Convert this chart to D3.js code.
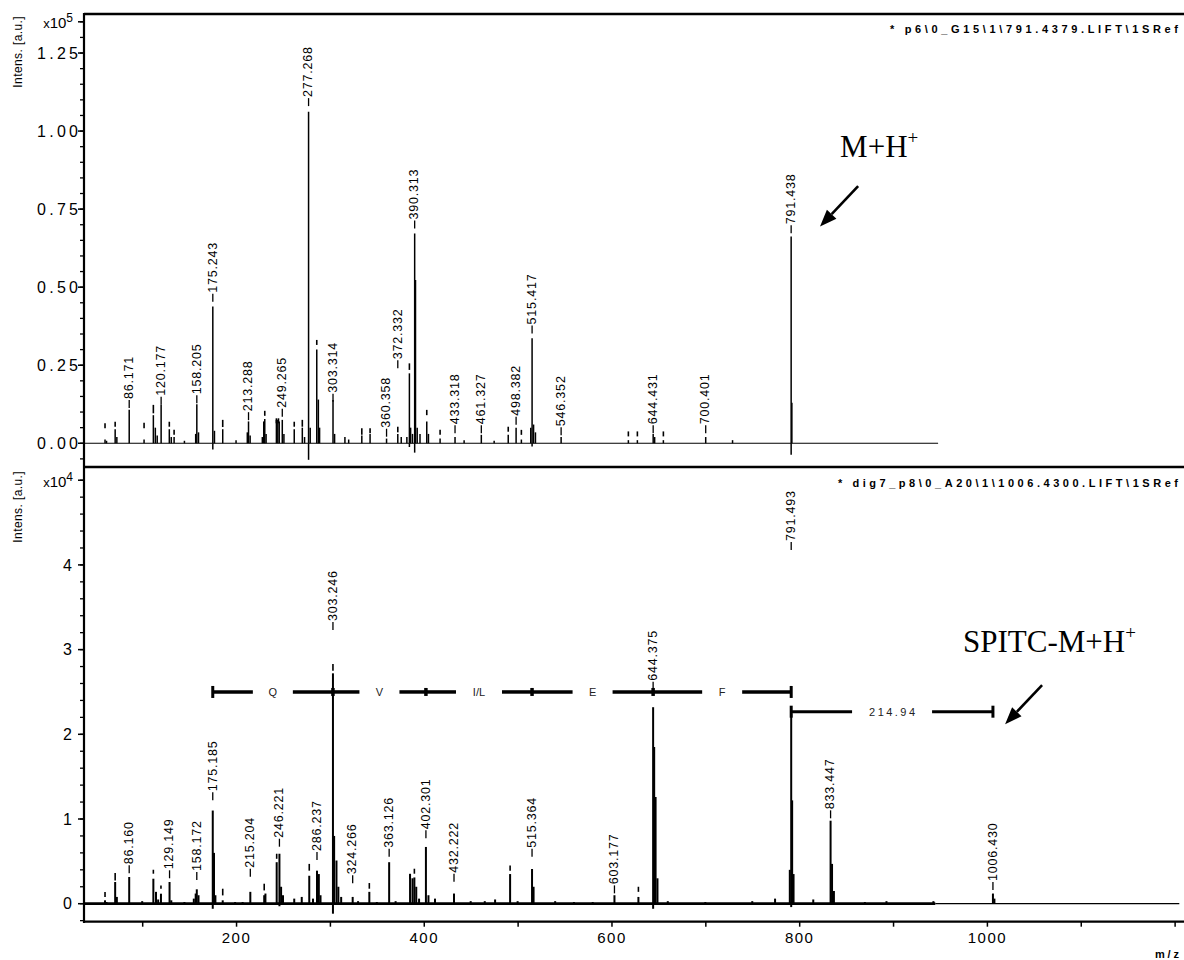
<!DOCTYPE html>
<html>
<head>
<meta charset="utf-8">
<script src="https://cdn.jsdelivr.net/npm/d3@7"></script>
<style>
body { margin: 0; background: #fff; }
svg { display: block; font-family: "Liberation Sans", Arial, sans-serif; }
</style>
</head>
<body>
<div id="chart"></div>
<script>
var w = 1184,
    h = 960;

// ---- top spectrum (intensity x10^5) ----
var topMz = [60.4, 62, 71.2, 73, 86.171, 102, 111.9, 114, 116, 120.177, 128.9, 131, 134, 145, 157, 158.205, 160,
    175.243, 177, 185.8, 200, 212, 213.288, 215, 228, 229.5, 230.6, 232, 243, 244.5, 246, 249.265, 251, 262, 270.6,
    273, 277.268, 279, 286, 287.7, 289, 303.314, 305, 316, 320, 334, 342.8, 360.358, 372.332, 376, 382, 384.7, 386,
    388, 390.313, 391.2, 393, 396, 403.2, 405, 417.4, 433.318, 443, 461.327, 475, 490, 498.382, 504, 514, 515.417,
    517, 519, 546.352, 618, 627.6, 644.431, 646, 655.3, 700.401, 729, 791.438, 792.2];
var topInt = [0.012, 0.008, 0.045, 0.02, 0.107, 0.012, 0.09, 0.05, 0.025, 0.123, 0.045, 0.02, 0.02, 0.008, 0.03, 0.125, 0.035,
    0.438, 0.04, 0.045, 0.01, 0.035, 0.07, 0.025, 0.02, 0.07, 0.078, 0.03, 0.075, 0.075, 0.07, 0.075, 0.03, 0.045, 0.05,
    0.02, 1.062, 0.05, 0.3, 0.14, 0.05, 0.139, 0.03, 0.02, 0.012, 0.025, 0.03, 0.015, 0.03, 0.02, 0.02, 0.224, 0.05,
    0.03, 0.672, 0.523, 0.05, 0.03, 0.07, 0.03, 0.015, 0.02, 0.01, 0.027, 0.008, 0.027, 0.05, 0.012, 0.05, 0.336,
    0.06, 0.035, 0.02, 0.01, 0.01, 0.03, 0.02, 0.01, 0.02, 0.01, 0.662, 0.13];
// small peak markers drawn above unlabelled peaks: [m/z, low, high]
var topMarks = [[60.4, .048, .064], [71.2, .053, .069], [102, .048, .066], [111.9, .096, .123], [128.9, .053, .069],
    [134, .027, .043], [185.8, .052, .075], [230.6, .088, .104], [243, .064, .080], [245.2, .064, .080],
    [262, .053, .069], [270.6, .053, .075], [286, .315, .331], [334, .027, .048], [342.8, .032, .048],
    [372.332, .035, .053], [384.7, .235, .256], [403.2, .09, .107], [417.4, .027, .043], [490, .037, .053],
    [504, .027, .043], [618, .022, .038], [627.6, .022, .038], [655.3, .022, .038]];
var topDips = [[175.243, -0.02], [277.268, -0.053], [390.313, -0.03], [515.417, -0.01], [791.438, -0.037], [384.7, -0.012]];
var topLabelMz = [86.171, 120.177, 158.205, 175.243, 213.288, 249.265, 277.268, 303.314, 360.358, 372.332,
    390.313, 433.318, 461.327, 498.382, 515.417, 546.352, 644.431, 700.401, 791.438];
var topLabelAt = [.113, .123, .128, .453, .074, .085, 1.08, .133, .021, .24,
    .688, .032, .032, .059, .352, .026, .032, .032, .673];

// ---- bottom spectrum (intensity x10^4) ----
var botMz = [60.4, 62, 71.2, 73, 86.16, 100, 111.9, 114.7, 117, 120, 129.149, 131, 145, 155, 157, 158.172, 160,
    175.185, 176.5, 178, 185.8, 199, 207, 215.204, 230, 231.3, 243.3, 246.221, 248, 250, 262, 270, 278, 282,
    286.237, 288.2, 290, 303.246, 304.5, 307, 309, 312, 324.266, 330, 342, 350, 363.126, 370, 385.4, 388, 390,
    392, 395, 402.301, 405, 412, 432.222, 450, 465, 476, 492, 500, 515.364, 517, 540, 560, 580, 603.177, 628.7,
    644.375, 645.5, 647, 649, 660, 700, 750, 774.3, 790, 791.493, 792.5, 794, 815, 833.447, 835, 837, 870, 893,
    943, 1006.43, 1008];
var botInt = [0.04, 0.02, 0.256, 0.08, 0.315, 0.03, 0.295, 0.14, 0.05, 0.118, 0.256, 0.04, 0.02, 0.06, 0.12, 0.17, 0.1,
    1.1, 0.6, 0.1, 0.04, 0.02, 0.02, 0.14, 0.1, 0.12, 0.49, 0.59, 0.2, 0.1, 0.06, 0.08, 0.33, 0.06,
    0.39, 0.35, 0.1, 2.72, 0.8, 0.51, 0.2, 0.08, 0.08, 0.03, 0.14, 0.02, 0.49, 0.03, 0.35, 0.3, 0.31,
    0.2, 0.06, 0.67, 0.1, 0.06, 0.12, 0.03, 0.03, 0.05, 0.35, 0.03, 0.41, 0.2, 0.03, 0.02, 0.02, 0.1, 0.08,
    2.32, 1.85, 1.26, 0.3, 0.03, 0.02, 0.03, 0.06, 0.4, 2.24, 1.22, 0.35, 0.05, 0.98, 0.47, 0.15, 0.02, 0.03,
    0.03, 0.12, 0.06];
var botMarks = [[60.4, .079, .138], [71.2, .275, .362], [111.9, .354, .401], [120, .177, .216], [185.8, .098, .177],
    [230, .157, .236], [243.3, .53, .59], [278, .39, .47], [303.246, 2.75, 2.83], [342, .177, .244],
    [385.4, .295, .354], [390, .354, .413], [492, .39, .45], [628.7, .14, .2]];
var botDips = [[175.185, -0.06], [303.246, -0.118], [644.375, -0.06], [791.493, -0.04], [246.221, -0.03]];
var botLabelMz = [86.16, 129.149, 158.172, 175.185, 215.204, 246.221, 286.237, 303.246, 324.266, 363.126,
    402.301, 432.222, 515.364, 603.177, 644.375, 791.493, 833.447, 1006.43];
var botLabelAt = [.359, .30, .28, 1.22, .319, .673, .516, 3.231, .24, .555,
    .772, .259, .555, .122, 2.527, 4.175, 1.008, .162];

// sequence ladder
var ladderMz = [175.185, 303.246, 402.301, 515.364, 644.375, 791.493];
var ladderRes = ["Q", "V", "I/L", "E", "F"];
var ladderLevel = 2.5;
var tagMz = [791.493, 1006.43];
var tagText = "214.94";
var tagLevel = 2.267;

var topTicks = [0, 0.25, 0.5, 0.75, 1.0, 1.25];
var botTicks = [0, 1, 2, 3, 4];
var xTicks = [200, 400, 600, 800, 1000];

var svg = d3.select("#chart").append("svg")
    .attr("width", w)
    .attr("height", h);

var x = d3.scaleLinear().domain([38, 1210]).range([84, 1184]);
var yTop = d3.scaleLinear().domain([-0.076, 1.375]).range([467, 14]);
var yBot = d3.scaleLinear().domain([-0.2125, 5.156]).range([921.7, 467]);

function drawSpectrum(y, mz, inten, marks, dips, labMz, labAt, sw, baseEnd, baseW) {
    var g = svg.append("g");

    // baseline
    g.append("line")
        .attr("x1", x(38)).attr("x2", x(baseEnd))
        .attr("y1", y(0)).attr("y2", y(0))
        .attr("stroke", "#000").attr("stroke-width", baseW);

    g.selectAll("line.pk")
        .data(d3.zip(mz, inten))
        .join("line")
        .attr("class", "pk")
        .attr("x1", function (d) { return x(d[0]); })
        .attr("x2", function (d) { return x(d[0]); })
        .attr("y1", y(0))
        .attr("y2", function (d) { return y(d[1]); })
        .attr("stroke", "#000")
        .attr("stroke-width", sw);

    g.selectAll("line.dip")
        .data(dips)
        .join("line")
        .attr("class", "dip")
        .attr("x1", function (d) { return x(d[0]); })
        .attr("x2", function (d) { return x(d[0]); })
        .attr("y1", y(0))
        .attr("y2", function (d) { return y(d[1]); })
        .attr("stroke", "#000")
        .attr("stroke-width", sw);

    g.selectAll("line.mk")
        .data(marks)
        .join("line")
        .attr("class", "mk")
        .attr("x1", function (d) { return x(d[0]); })
        .attr("x2", function (d) { return x(d[0]); })
        .attr("y1", function (d) { return y(d[1]); })
        .attr("y2", function (d) { return y(d[2]); })
        .attr("stroke", "#000")
        .attr("stroke-width", 1.6);

    var lab = g.selectAll("g.lab")
        .data(d3.zip(labMz, labAt))
        .join("g")
        .attr("class", "lab")
        .attr("transform", function (d) {
            return "translate(" + x(d[0]) + "," + y(d[1]) + ")";
        });

    lab.append("line")
        .attr("x1", 0).attr("x2", 0)
        .attr("y1", 0).attr("y2", -8)
        .attr("stroke", "#000")
        .attr("stroke-width", 1.3);

    lab.append("text")
        .attr("transform", "rotate(-90)")
        .attr("x", 9)
        .attr("dy", "0.3em")
        .style("font-size", "12.5px")
        .style("letter-spacing", "0.8px")
        .text(function (d) { return d3.format(".3f")(d[0]); });
}

drawSpectrum(yTop, topMz, topInt, topMarks, topDips, topLabelMz, topLabelAt, 1.5, 948, 1.1);
drawSpectrum(yBot, botMz, botInt, botMarks, botDips, botLabelMz, botLabelAt, 2, 945, 2.8);

// flat tail of the lower baseline
svg.append("line")
    .attr("x1", x(945)).attr("x2", x(1205))
    .attr("y1", yBot(0)).attr("y2", yBot(0))
    .attr("stroke", "#000").attr("stroke-width", 1.3);

// ---- axes ----
var topMinor = d3.range(-0.05, 1.36, 0.05);
var botMinor = d3.range(-0.2, 5.01, 0.2);

svg.append("g")
    .selectAll("line")
    .data(topMinor)
    .join("line")
    .attr("x1", 80).attr("x2", 84)
    .attr("y1", function (d) { return yTop(d); })
    .attr("y2", function (d) { return yTop(d); })
    .attr("stroke", "#000").attr("stroke-width", 1.3);

svg.append("g")
    .selectAll("line")
    .data(topTicks.concat([1.35]))
    .join("line")
    .attr("x1", 78).attr("x2", 84)
    .attr("y1", function (d) { return yTop(d); })
    .attr("y2", function (d) { return yTop(d); })
    .attr("stroke", "#000").attr("stroke-width", 1.5);

svg.append("g")
    .selectAll("line")
    .data(botMinor)
    .join("line")
    .attr("x1", 80).attr("x2", 84)
    .attr("y1", function (d) { return yBot(d); })
    .attr("y2", function (d) { return yBot(d); })
    .attr("stroke", "#000").attr("stroke-width", 1.3);

svg.append("g")
    .selectAll("line")
    .data(botTicks.concat([5]))
    .join("line")
    .attr("x1", 78).attr("x2", 84)
    .attr("y1", function (d) { return yBot(d); })
    .attr("y2", function (d) { return yBot(d); })
    .attr("stroke", "#000").attr("stroke-width", 1.5);

svg.append("g")
    .selectAll("text")
    .data(topTicks)
    .join("text")
    .attr("x", 78)
    .attr("y", function (d) { return yTop(d); })
    .attr("dy", "0.36em")
    .attr("text-anchor", "end")
    .attr("textLength", 41)
    .attr("lengthAdjust", "spacing")
    .style("font-size", "16px")
    .text(function (d) { return d3.format(".2f")(d); });

svg.append("g")
    .selectAll("text")
    .data(botTicks)
    .join("text")
    .attr("x", 72)
    .attr("y", function (d) { return yBot(d); })
    .attr("dy", "0.36em")
    .attr("text-anchor", "end")
    .style("font-size", "16px")
    .text(function (d) { return d; });

var xAxis = d3.axisBottom(x)
    .tickValues(d3.range(100, 1201, 100))
    .tickSize(5)
    .tickPadding(6)
    .tickFormat(function (d) { return xTicks.indexOf(d) >= 0 ? d : ""; });

var xg = svg.append("g")
    .attr("transform", "translate(0," + yBot.range()[0] + ")")
    .call(xAxis);
xg.select(".domain").remove();
xg.selectAll(".tick line").attr("stroke-width", 1.5);
xg.selectAll(".tick text")
    .style("font-family", "Liberation Sans, Arial, sans-serif")
    .style("font-size", "15px")
    .style("letter-spacing", "1.5px")
    .attr("fill", "#000");

// frame
var frame = svg.append("g").attr("stroke", "#000");
frame.append("line").attr("x1", 84).attr("x2", w).attr("y1", 14).attr("y2", 14).attr("stroke-width", 2.4);
frame.append("line").attr("x1", 84).attr("x2", w).attr("y1", 467).attr("y2", 467).attr("stroke-width", 2.6);
frame.append("line").attr("x1", 84).attr("x2", w).attr("y1", 921.7).attr("y2", 921.7).attr("stroke-width", 2.2);
frame.append("line").attr("x1", 84).attr("x2", 84).attr("y1", 13).attr("y2", 923).attr("stroke-width", 2.2);

// exponent labels
function expLabel(yPos, p) {
    var t = svg.append("text")
        .attr("x", 73)
        .attr("y", yPos)
        .attr("text-anchor", "end")
        .style("font-size", "15px");
    t.append("tspan").style("font-size", "13px").text("x");
    t.append("tspan").text("10");
    t.append("tspan").attr("dy", -6).style("font-size", "12px").text(p);
}
expLabel(28, "5");
expLabel(487, "4");

// y titles
[[16, "Intens. [a.u.]"], [471, "Intens. [a.u.]"]].forEach(function (d) {
    svg.append("text")
        .attr("transform", "translate(22," + d[0] + ") rotate(-90)")
        .attr("text-anchor", "end")
        .style("font-size", "12px")
        .style("letter-spacing", "0.4px")
        .text(d[1]);
});

// spectrum names
svg.append("text")
    .attr("x", 890).attr("y", 33)
    .attr("textLength", 288).attr("lengthAdjust", "spacing")
    .style("font-size", "11px").style("font-weight", "bold")
    .text("* p6\\0_G15\\1\\791.4379.LIFT\\1SRef");
svg.append("text")
    .attr("x", 838).attr("y", 487)
    .attr("textLength", 340).attr("lengthAdjust", "spacing")
    .style("font-size", "11px").style("font-weight", "bold")
    .text("* dig7_p8\\0_A20\\1\\1006.4300.LIFT\\1SRef");

svg.append("text")
    .attr("x", 1155).attr("y", 958)
    .attr("textLength", 24).attr("lengthAdjust", "spacing")
    .style("font-size", "11px").style("font-weight", "bold")
    .text("m/z");

// ---- sequence ladder ----
var ly = yBot(ladderLevel);
var lad = svg.append("g").attr("stroke", "#000");
for (var i = 0; i < ladderRes.length; i++) {
    var x0 = x(ladderMz[i]), x1 = x(ladderMz[i + 1]), mid = (x0 + x1) / 2;
    var half = ladderRes[i].length > 1 ? 23 : 20;
    lad.append("line").attr("x1", x0).attr("x2", mid - half).attr("y1", ly).attr("y2", ly).attr("stroke-width", 3.5);
    lad.append("line").attr("x1", mid + half).attr("x2", x1).attr("y1", ly).attr("y2", ly).attr("stroke-width", 3.5);
    svg.append("text")
        .attr("x", mid).attr("y", ly).attr("dy", "0.35em")
        .attr("text-anchor", "middle")
        .style("font-size", "11px")
        .attr("fill", "#222")
        .text(ladderRes[i]);
}
ladderMz.forEach(function (m, j) {
    var end = j === 0 || j === ladderMz.length - 1;
    lad.append("line")
        .attr("x1", x(m)).attr("x2", x(m))
        .attr("y1", ly - (end ? 6 : 4)).attr("y2", ly + (end ? 6 : 4))
        .attr("stroke-width", end ? 3 : 3.5);
});

var ty = yBot(tagLevel);
var tx0 = x(tagMz[0]), tx1 = x(tagMz[1]), tmid = (tx0 + tx1) / 2;
lad.append("line").attr("x1", tx0).attr("x2", tmid - 40).attr("y1", ty).attr("y2", ty).attr("stroke-width", 3);
lad.append("line").attr("x1", tmid + 40).attr("x2", tx1).attr("y1", ty).attr("y2", ty).attr("stroke-width", 3);
tagMz.forEach(function (m) {
    lad.append("line").attr("x1", x(m)).attr("x2", x(m))
        .attr("y1", ty - 6).attr("y2", ty + 6).attr("stroke-width", 3);
});
svg.append("text")
    .attr("x", tmid - 23).attr("y", ty).attr("dy", "0.35em")
    .attr("textLength", 46).attr("lengthAdjust", "spacing")
    .style("font-size", "11px")
    .attr("fill", "#222")
    .text(tagText);

// ---- annotations ----
function arrow(xa, ya, xb, yb) {
    var ang = Math.atan2(yb - ya, xb - xa), len = 17, hw = 6.5;
    var bx = xb - len * Math.cos(ang), by = yb - len * Math.sin(ang);
    svg.append("line")
        .attr("x1", xa).attr("y1", ya).attr("x2", bx).attr("y2", by)
        .attr("stroke", "#000").attr("stroke-width", 2.6);
    svg.append("polygon")
        .attr("points", [
            [xb, yb],
            [bx + hw * Math.sin(ang), by - hw * Math.cos(ang)],
            [bx - hw * Math.sin(ang), by + hw * Math.cos(ang)]
        ].map(function (p) { return p.join(","); }).join(" "))
        .attr("fill", "#000");
}

function ionLabel(xp, yp, main) {
    var t = svg.append("text")
        .attr("x", xp).attr("y", yp)
        .style("font-family", "Liberation Serif, Times New Roman, serif")
        .style("font-size", "31px");
    t.append("tspan").text(main);
    t.append("tspan").attr("dy", -13).style("font-size", "19px").text("+");
}

ionLabel(x(843.6), yTop(0.917), "M+H");
arrow(x(862.8), yTop(0.824), x(822.2), yTop(0.694));
ionLabel(x(974.6), yBot(2.97), "SPITC-M+H");
arrow(x(1058.8), yBot(2.58), x(1019.4), yBot(2.12));
</script>
</body>
</html>
